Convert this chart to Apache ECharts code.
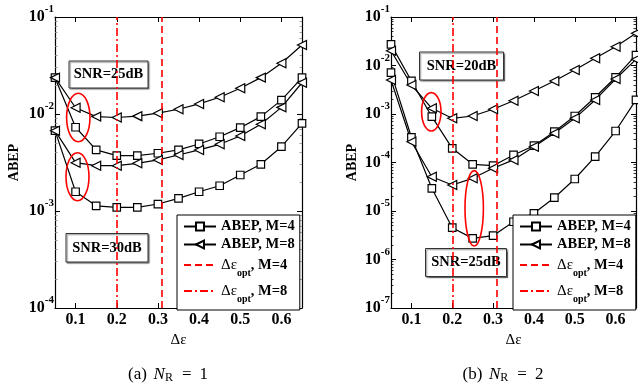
<!DOCTYPE html>
<html>
<head>
<meta charset="utf-8">
<script src="https://cdn.jsdelivr.net/npm/echarts@6/dist/echarts.min.js"></script>
<style>html,body{margin:0;padding:0;background:#fff;}#c{width:638px;height:388px;}</style>
</head>
<body>
<div id="c"></div>
<script>
// ---------- data ----------
const xValues = [0.05, 0.10, 0.15, 0.20, 0.25, 0.30, 0.35, 0.40, 0.45, 0.50, 0.55, 0.60, 0.65];
const xTicks = [0.1, 0.2, 0.3, 0.4, 0.5, 0.6];

// (a) N_R = 1
const aM8_25 = [0.0237, 0.0116, 0.0094, 0.0092, 0.0095, 0.0102, 0.0112, 0.0127, 0.0149, 0.0184, 0.0237, 0.0333, 0.0514];
const aM4_25 = [0.0237, 0.0073, 0.00426, 0.00372, 0.00372, 0.00394, 0.00426, 0.00491, 0.00583, 0.00723, 0.0094, 0.0139, 0.0237];
const aM8_30 = [0.00673, 0.00315, 0.00293, 0.00293, 0.0031, 0.00336, 0.00378, 0.00426, 0.00487, 0.00593, 0.00783, 0.0117, 0.021];
const aM4_30 = [0.00673, 0.00158, 0.00113, 0.00109, 0.00109, 0.00118, 0.00135, 0.00158, 0.00182, 0.00235, 0.00303, 0.0046, 0.0080];

// (b) N_R = 2
const bM8_20 = [0.0202, 0.00396, 0.00131, 0.000814, 0.00091, 0.00125, 0.00188, 0.00298, 0.00479, 0.00807, 0.0141, 0.0244, 0.0461];
const bM4_20 = [0.0273, 0.0048, 0.00088, 0.000196, 0.0000918, 0.000086, 0.000143, 0.000222, 0.000432, 0.00091, 0.00221, 0.00571, 0.0164];
const bM8_25 = [0.00502, 0.000268, 0.0000509, 0.0000343, 0.0000472, 0.0000759, 0.000113, 0.000212, 0.0004, 0.000814, 0.00195, 0.00527, 0.0134];
const bM4_25 = [0.00711, 0.000331, 0.0000294, 0.00000453, 0.00000273, 0.0000031, 0.000006, 0.00000896, 0.0000188, 0.0000457, 0.000132, 0.000446, 0.00195];

// optimal delta-epsilon (vertical lines), [panel a, panel b]
const optM4 = [0.307, 0.307];
const optM8 = [0.2, 0.2];

// y-axis ranges (decades)
const yRangeA = [1e-4, 1e-1];
const yRangeB = [1e-7, 1e-1];
const minorMult = [2, 3, 4, 5, 6, 7, 8, 9];

const boxTexts = ['SNR=25dB', 'SNR=30dB', 'SNR=20dB', 'SNR=25dB'];
const captions = [['(a)', '1'], ['(b)', '2']];
const legendNames = ['ABEP, M=4', 'ABEP, M=8', 'opt4', 'opt8'];

// ---------- chart ----------
const SERIF = '"Liberation Serif", "Times New Roman", serif';
const chart = echarts.init(document.getElementById('c'), null, {renderer: 'canvas'});

const grids = [
  {left: 55, top: 17, width: 247, height: 291},
  {left: 391, top: 17, width: 245, height: 291}
];

function pairs(arr) { return xValues.map((x, i) => [x, arr[i]]); }

function minorLogs(range) {
  const out = [];
  const lo = Math.round(Math.log10(range[0])), hi = Math.round(Math.log10(range[1]));
  for (let e = lo; e < hi; e++) {
    minorMult.forEach(m => out.push(Math.log10(m) + e));
  }
  return out;
}

const axisLineStyle = {color: '#000', width: 1.2};
const xAxes = [];
const yAxes = [];
[0, 1].forEach(g => {
  xAxes.push({
    type: 'value', gridIndex: g, min: 0.05, max: 0.65, position: 'bottom',
    name: 'Δε', nameLocation: 'middle', nameGap: 19,
    nameTextStyle: {fontFamily: SERIF, fontSize: 15, color: '#000'},
    axisLine: {lineStyle: axisLineStyle},
    axisTick: {inside: true, length: 5, lineStyle: {color: '#000'}, customValues: xTicks},
    axisLabel: {customValues: xTicks, margin: 4, fontFamily: SERIF, fontWeight: 'bold', fontSize: 16, color: '#000',
      formatter: v => v.toFixed(1)},
    splitLine: {show: false}
  });
  xAxes.push({
    type: 'value', gridIndex: g, min: 0.05, max: 0.65, position: 'top',
    axisLine: {lineStyle: axisLineStyle},
    axisTick: {inside: true, length: 5, lineStyle: {color: '#000'}, customValues: xTicks},
    axisLabel: {show: false},
    splitLine: {show: false}
  });
});

const yLabelRich = {
  b: {fontFamily: SERIF, fontWeight: 'bold', fontSize: 16, color: '#000', lineHeight: 26},
  s: {fontFamily: SERIF, fontWeight: 'bold', fontSize: 11, color: '#000', lineHeight: 11, verticalAlign: 'top'}
};
[yRangeA, yRangeB].forEach((rng, g) => {
  const decades = Math.round(Math.log10(rng[1]) - Math.log10(rng[0]));
  yAxes.push({
    type: 'log', gridIndex: g, min: rng[0], max: rng[1], logBase: 10, splitNumber: decades,
    position: 'left',
    name: 'ABEP', nameLocation: 'middle', nameGap: g === 0 ? 34 : 32,
    nameTextStyle: {fontFamily: SERIF, fontWeight: 'bold', fontSize: 14, color: '#000'},
    axisLine: {lineStyle: axisLineStyle},
    axisTick: {inside: true, length: 5, lineStyle: {color: '#000'}},
    axisLabel: {margin: 1, formatter: v => '{b|10}{s|-' + Math.round(-Math.log10(v)) + '}', rich: yLabelRich},
    splitLine: {show: false}
  });
  yAxes.push({
    type: 'log', gridIndex: g, min: rng[0], max: rng[1], logBase: 10, splitNumber: decades,
    position: 'right',
    axisLine: {lineStyle: axisLineStyle},
    axisTick: {inside: true, length: 5, lineStyle: {color: '#000'}},
    axisLabel: {show: false},
    splitLine: {show: false}
  });
  // minor ticks (log-space value axes)
  const lo = Math.log10(rng[0]), hi = Math.log10(rng[1]);
  const minors = minorLogs(rng);
  ['left', 'right'].forEach(pos => {
    yAxes.push({
      type: 'value', gridIndex: g, min: lo, max: hi, position: pos,
      axisLine: {show: false},
      axisTick: {inside: true, length: 2.5, customValues: minors, lineStyle: {color: g === 0 ? '#888' : '#000', width: 0.8}},
      axisLabel: {show: false},
      splitLine: {show: false}
    });
  });
});

const redM4 = {color: '#ff0000', width: 1.6, type: [7, 4]};
const redM8 = {color: '#ff0000', width: 1.6, type: [8, 3, 2, 3]};
const series = [];
[0, 1].forEach(g => {
  const xi = g * 2, yi = g * 4;
  series.push({
    name: 'opt4', type: 'line', xAxisIndex: xi, yAxisIndex: yi, data: [], symbol: 'none',
    lineStyle: redM4, itemStyle: {color: '#ff0000'},
    markLine: {symbol: 'none', silent: true, animation: false, label: {show: false}, lineStyle: redM4,
      data: [{xAxis: optM4[g]}]}
  });
  series.push({
    name: 'opt8', type: 'line', xAxisIndex: xi, yAxisIndex: yi, data: [], symbol: 'none',
    lineStyle: redM8, itemStyle: {color: '#ff0000'},
    markLine: {symbol: 'none', silent: true, animation: false, label: {show: false}, lineStyle: redM8,
      data: [{xAxis: optM8[g]}]}
  });
});

function curve(name, arr, g, isTri) {
  return {
    name: name, type: 'line', xAxisIndex: g * 2, yAxisIndex: g * 4, data: pairs(arr),
    symbol: isTri ? 'triangle' : 'rect', symbolSize: isTri ? 9 : 7.5, symbolRotate: isTri ? 90 : 0,
    showAllSymbol: true,
    lineStyle: {color: '#000', width: 1.2},
    itemStyle: {color: '#fff', borderColor: '#000', borderWidth: 1.2},
    emphasis: {disabled: true}, animation: false, z: 3
  };
}
series.push(curve('ABEP, M=4', aM4_25, 0, false));
series.push(curve('ABEP, M=8', aM8_25, 0, true));
series.push(curve('ABEP, M=4', aM4_30, 0, false));
series.push(curve('ABEP, M=8', aM8_30, 0, true));
series.push(curve('ABEP, M=4', bM4_20, 1, false));
series.push(curve('ABEP, M=8', bM8_20, 1, true));
series.push(curve('ABEP, M=4', bM4_25, 1, false));
series.push(curve('ABEP, M=8', bM8_25, 1, true));

const legendRich = {
  t: {fontFamily: SERIF, fontWeight: 'bold', fontSize: 14.5, color: '#000', lineHeight: 20},
  g: {fontFamily: SERIF, fontSize: 15, color: '#000', lineHeight: 20},
  sub: {fontFamily: SERIF, fontWeight: 'bold', fontSize: 10, color: '#000', lineHeight: 7, padding: [13, 0, 0, 0], verticalAlign: 'top'}
};
function legendFmt(name) {
  if (name === 'opt4') return '{g|Δε}{sub|opt}{t|, M=4}';
  if (name === 'opt8') return '{g|Δε}{sub|opt}{t|, M=8}';
  return '{t|' + name + '}';
}
const legendData = legendNames.map(n => n.indexOf('opt') === 0
  ? {name: n, itemStyle: {opacity: 0, borderWidth: 0}}
  : {name: n});
const legends = [177, 513].map(l => ({
  orient: 'vertical', left: l, top: 215, data: legendData,
  itemWidth: 32, itemHeight: 10, itemGap: 3,
  padding: [4, 5, 6, 6],
  backgroundColor: '#fff', borderColor: '#000', borderWidth: 1,
  selectedMode: false,
  formatter: legendFmt,
  textStyle: {rich: legendRich}
}));

// annotations
function box(x, y, w, h, text) {
  return {
    type: 'group', z: 50,
    children: [
      {type: 'rect', shape: {x: x, y: y, width: w, height: h},
        style: {fill: '#fff', stroke: '#333', lineWidth: 1, shadowColor: 'rgba(0,0,0,0.45)', shadowOffsetX: 1.2, shadowOffsetY: 1.2, shadowBlur: 1}},
      {type: 'text', x: x + w / 2, y: y + h / 2,
        style: {text: text, font: 'bold 14.5px ' + SERIF, fill: '#000', align: 'center', verticalAlign: 'middle'}}
    ]
  };
}
function ell(cx, cy, rx, ry) {
  return {type: 'ellipse', z: 60, shape: {cx: cx, cy: cy, rx: rx, ry: ry},
    style: {fill: 'none', stroke: '#ff0000', lineWidth: 1.6}};
}
const capRich = {
  t: {fontFamily: SERIF, fontSize: 17, color: '#333', lineHeight: 20},
  i: {fontFamily: SERIF, fontStyle: 'italic', fontSize: 17, color: '#333', lineHeight: 20},
  r: {fontFamily: SERIF, fontSize: 12, color: '#333', lineHeight: 8, padding: [7, 0, 0, 0], verticalAlign: 'top'},
  e: {fontFamily: SERIF, fontSize: 17, color: '#333', lineHeight: 20, padding: [0, 8, 0, 9]}
};
function caption(cx, cy, c) {
  return {type: 'text', x: cx, y: cy, z: 50,
    style: {text: '{t|' + c[0] + '}  {i|N}{r|R}{e|=}{t|' + c[1] + '}', rich: capRich, align: 'center', verticalAlign: 'middle'}};
}

const graphic = [
  box(69, 61, 79, 27, boxTexts[0]),
  box(66, 233.5, 82, 28.5, boxTexts[1]),
  box(419.5, 52, 84, 28, boxTexts[2]),
  box(425.5, 248.5, 81, 28, boxTexts[3]),
  ell(78.3, 117.5, 11.7, 24.2),
  ell(77.5, 176.7, 11.5, 24),
  ell(431.3, 111.8, 9.7, 19.2),
  ell(474.2, 208.3, 9.2, 37.7),
  caption(168, 375, captions[0]),
  caption(503, 375, captions[1])
];

chart.setOption({
  backgroundColor: '#fff',
  animation: false,
  grid: grids,
  xAxis: xAxes,
  yAxis: yAxes,
  legend: legends,
  series: series,
  graphic: graphic
});
</script>
</body>
</html>
